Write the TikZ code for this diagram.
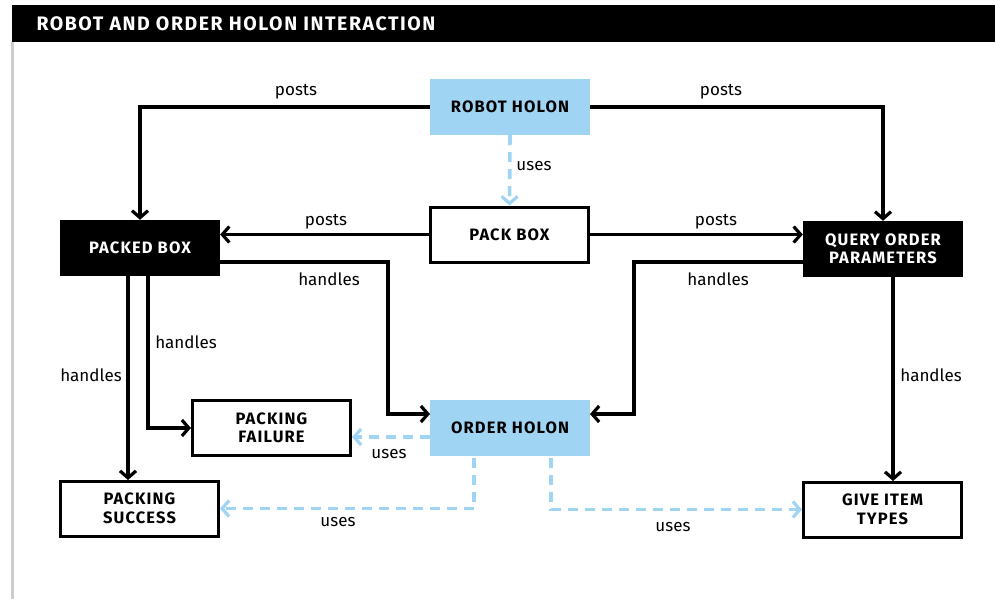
\documentclass[tikz,border=0pt]{standalone}
\usepackage{fontspec}
\setmainfont{Fira Sans}
\newfontfamily\boxfont[LetterSpace=7]{Fira Sans}
\newfontfamily\titlefont[LetterSpace=8]{Fira Sans}
\usetikzlibrary{arrows.meta}
\definecolor{holonblue}{HTML}{9FD4F3}
\definecolor{railgray}{HTML}{CCCCCC}
\tikzset{
  x=1pt, y=-1pt,
  card/.style={draw=black, line width=3pt, fill=white, minimum width=158pt, minimum height=55pt,
    inner sep=0pt, align=center, font=\boxfont\bfseries\fontsize{16.5}{18.5}\selectfont, text=black},
  darkcard/.style={fill=black, minimum width=160pt, minimum height=56pt, inner sep=0pt,
    align=center, font=\boxfont\bfseries\fontsize{16.5}{18.5}\selectfont, text=white},
  holon/.style={fill=holonblue, minimum width=160pt, minimum height=56pt, inner sep=0pt,
    align=center, font=\boxfont\bfseries\fontsize{16.5}{18.5}\selectfont, text=black},
  flow/.style={draw=black, line width=3.4pt, -{Straight Barb[length=7pt, width=16pt, line width=3.2pt]}},
  useflow/.style={draw=holonblue, line width=3.6pt, dash pattern=on 10pt off 7pt,
    -{Straight Barb[length=7pt, width=16pt, line width=3.2pt]}},
  lbl/.style={font=\fontsize{17}{20}\selectfont, inner sep=0pt}
}
\begin{document}
\begin{tikzpicture}
\useasboundingbox (0,0) rectangle (995,599);
% title bar and left rail
\fill[black] (12,5) rectangle (995,42);
\node[anchor=west, text=white, font=\titlefont\bfseries\fontsize{19.5}{22}\selectfont] (title) at (33,23.5) {ROBOT AND ORDER HOLON INTERACTION};
\fill[railgray] (11,42) rectangle (14,599);

% nodes
\node[holon] (robot) at (510,107) {ROBOT HOLON};
\node[card] (pack) at (509.5,234.5) {PACK BOX};
\node[darkcard] (packed) at (140,248) {PACKED BOX};
\node[darkcard] (query) at (883,249) {QUERY ORDER\\PARAMETERS};
\node[holon] (order) at (510,428) {ORDER HOLON};
\node[card] (fail) at (271.5,428) {PACKING\\FAILURE};
\node[card] (succ) at (139.5,508.5) {PACKING\\SUCCESS};
\node[card] (give) at (882.5,509.5) {GIVE ITEM\\TYPES};

% connector anchor points on box edges
\coordinate (pA) at (220,262);
\coordinate (qA) at (803,262);
\coordinate (pS) at (128,276);
\coordinate (sT) at (128,480);
\coordinate (pF) at (148,276);
\coordinate (qG) at (893,277);
\coordinate (gT) at (893,481);
\coordinate (oF) at (430,437);
\coordinate (fE) at (352,437);
\coordinate (oS) at (474,458);
\coordinate (oG) at (551,458);

% robot holon posts
\draw[flow] (robot.west) -| (packed.north);
\draw[flow] (robot.east) -| (query.north);
\node[lbl] (l1) at (296,92) {posts};
\node[lbl] (l2) at (721,92) {posts};
\draw[useflow] (robot.south) -- (pack.north);
\node[lbl] (l3) at (534,166) {uses};

% pack box posts
\draw[flow] (pack.west) -- (pack.west -| packed.east);
\draw[flow] (pack.east) -- (pack.east -| query.west);
\node[lbl] (l4) at (326,222) {posts};
\node[lbl] (l5) at (716,222) {posts};

% handles to order holon
\draw[flow] (pA) -- (388,262) |- (430,414);
\draw[flow] (qA) -- (634,262) |- (590,414);
\node[lbl] (l6) at (329,279) {handles};
\node[lbl] (l7) at (718,279) {handles};

% packed box handles
\draw[flow] (pS) -- (sT);
\draw[flow] (pF) |- (fail.west);
\node[lbl] (l8) at (91,375) {handles};
\node[lbl] (l9) at (186,342) {handles};

% query handles
\draw[flow] (qG) -- (gT);
\node[lbl] (l10) at (931,375) {handles};

% order holon uses
\draw[useflow] (oF) -- (fE);
\node[lbl] (l11) at (389,454) {uses};
\draw[useflow] (oS) |- (succ.east);
\node[lbl] (l12) at (338,522) {uses};
\draw[useflow] (oG) |- (give.west);
\node[lbl] (l13) at (673,527) {uses};
\end{tikzpicture}
\end{document}
